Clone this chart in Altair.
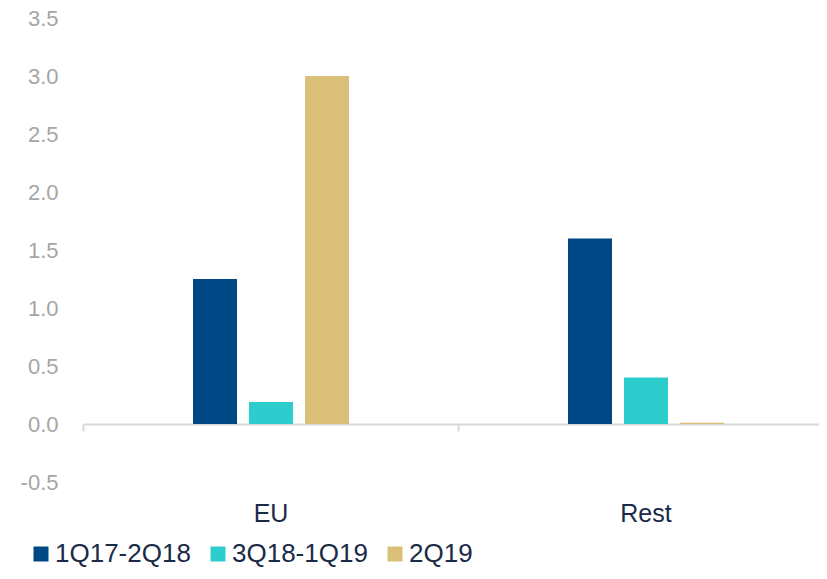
import altair as alt
import pandas as pd

categories = ["EU", "Rest"]
series = ["1Q17-2Q18", "3Q18-1Q19", "2Q19"]
values_1q17_2q18 = [1.25, 1.60]
values_3q18_1q19 = [0.19, 0.40]
values_2q19 = [3.00, 0.01]
colors = ["#004785", "#2ECDCD", "#D9BF77"]
y_ticks = [-0.5, 0.0, 0.5, 1.0, 1.5, 2.0, 2.5, 3.0, 3.5]

rows = []
for s, vals in zip(series, [values_1q17_2q18, values_3q18_1q19, values_2q19]):
    for c, v in zip(categories, vals):
        rows.append({"cat": c, "series": s, "value": v})
df = pd.DataFrame(rows)

text_dark = "#1B2A47"
font = "Arial"

bars = alt.Chart(df).mark_bar().encode(
    x=alt.X("cat:N", sort=categories, title=None,
            scale=alt.Scale(paddingInner=0, paddingOuter=0),
            axis=alt.Axis(orient="bottom", offset=-58, tickBand="extent",
                          tickSize=7, tickWidth=2, tickColor="#D9D9D9",
                          domainColor="#D9D9D9", domainWidth=2,
                          labelPadding=70, labelFontSize=25, labelColor=text_dark,
                          labelAngle=0, labelFont=font, grid=False)),
    xOffset=alt.XOffset("series:N", sort=series,
                        scale=alt.Scale(range=[110, 266], paddingInner=0.214, paddingOuter=0)),
    y=alt.Y("value:Q", title=None,
            scale=alt.Scale(domain=[-0.5, 3.5], nice=False, zero=False),
            axis=alt.Axis(values=y_ticks, domain=False, ticks=False,
                          labelExpr="replace(format(datum.value, '.1f'), '\u2212', '-')",
                          grid=False, labelPadding=25, labelFontSize=22,
                          labelColor="#A6A6A6", labelFont=font)),
    color=alt.Color("series:N", sort=series,
                    scale=alt.Scale(domain=series, range=colors),
                    legend=alt.Legend(title=None, orient="none", direction="horizontal",
                                      legendX=-55, legendY=523, columnPadding=14,
                                      labelOffset=1, symbolSize=225, symbolType="square",
                                      symbolStrokeWidth=0, labelFontSize=26,
                                      labelColor=text_dark, labelFont=font,
                                      labelLimit=300, padding=0)),
)

chart = bars.properties(
    width=750, height=464,
    autosize=alt.AutoSizeParams(type="none"),
    padding={"left": 75, "top": 10, "right": -14, "bottom": 86},
).configure_view(stroke=None)

chart.save("out.html", embed_options={"renderer": "svg", "actions": False})
